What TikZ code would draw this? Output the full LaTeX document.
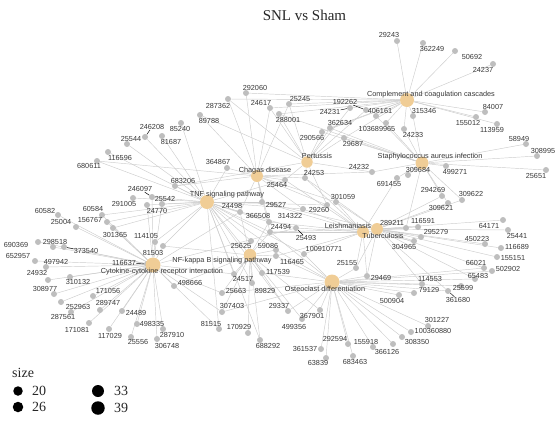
\documentclass[tikz,border=0pt]{standalone}
\usepackage{fontspec}
\setsansfont{Liberation Sans}
\newfontfamily\ttlfont{Liberation Serif}
\usetikzlibrary{backgrounds}
\definecolor{catfill}{RGB}{240,205,150}
\definecolor{genefill}{RGB}{190,190,190}
\definecolor{edgegray}{RGB}{205,205,205}
\definecolor{labelgray}{RGB}{55,55,55}
\begin{document}
\begin{tikzpicture}[x=1pt,y=-1pt,
  catdot/.style={circle,fill=catfill,draw=none,inner sep=0pt,minimum size=#1},
  catdot/.default=12pt,
  genedot/.style={circle,fill=genefill,draw=none,inner sep=0pt,minimum size=6pt},
  lbl/.style={inner sep=0.3pt,text=labelgray,font=\sffamily\fontsize{7.3}{8.8}\selectfont},
  link/.style={draw=edgegray,line width=0.45pt},
  leader/.style={draw=black,line width=0.45pt},
  keydot/.style={circle,fill=black,draw=none,inner sep=0pt,minimum size=#1},
  keytext/.style={inner sep=0pt,text=black!85,font=\ttlfont\fontsize{14}{16}\selectfont}]
\path[use as bounding box] (0,0) rectangle (558,421);
\node[keytext,anchor=base,font=\ttlfont\fontsize{15}{18}\selectfont] (title) at (304.5,20) {SNL vs Sham};
% gene dots
\foreach \n/\x/\y in {29243/397/41,362249/423/43,50692/455/51,24237/493/64,84007/485/112,155012/476/117,
  113959/497/124,315346/413/116,406161/376/116,103689965/386/123,24233/404/129,192262/366/110,
  24231/350/108,362634/330/128,290566/322/132,29687/344/138,25245/289/104,24617/270/108,
  292060/246/93,287362/228/99,89788/200/115,288001/279/114,
  58949/526/144,308995/537/156,25651/546/170,309684/408/175,499271/446/166,691455/397/178,
  24232/372/172,294269/442/196,309622/462/200,309621/448/203,
  289211/406/228,116591/418/227,295279/421/237,64171/503/220,25441/508/230,450223/485/244,
  116689/501/248,155151/497/257,304965/414/241,
  66021/484/268,502902/492/271,65483/475/279,25599/461/286,361680/448/291,114553/422/284,
  79129/414/293,500904/399/295,29469/367/276,25155/356/268,301227/428/326,100360880/411/332,
  308350/402/337,155918/373/347,366126/393/344,683463/353/356,63839/326/358,361537/321/349,
  292594/348/344,
  367901/320/310,499356/302/319,29337/288/311,688292/260/340,170929/248/333,81515/219/329,
  307403/222/312,25663/222/293,89829/252/283,24517/234/274,117539/262/273,100910771/304/254,
  59086/276/250,116465/276/256,25625/251/241,498666/174/286,
  25493/296/228,24494/270/232,314322/303/209,366508/269/222,29527/262/202,29260/327/205,
  301059/336/202,24253/305/178,25464/285/180,24498/240/212,364867/227/168,
  683206/175/186,85240/181/123,246208/145/137,25544/127/144,81687/162/136,116596/108/152,
  680611/97/161,246097/152/197,291005/133/198,25542/162/204,24770/147/205,60584/102/215,
  156767/107/222,301365/113/228,114105/155/242,81503/163/246,116637/147/264,60582/58/215,
  25004/76/227,
  690369/38/242,298518/53/247,373540/64/247,652957/35/261,497942/46/267,24932/48/280,
  310132/70/277,308977/54/294,171056/93/296,252963/61/302,289747/100/310,287561/71/312,
  171081/89/323,117029/109/329,24489/122/311,498335/137/324,287910/163/329,25556/131/337,
  306748/157/339}
  \node[genedot] (g\n) at (\x,\y) {};
% pathway dots
\node[catdot=14pt] (cc) at (407,100) {};
\node[catdot=13pt] (sa) at (422,163) {};
\node[catdot=11.5pt] (pe) at (307,162) {};
\node[catdot=12pt] (cd) at (257,176) {};
\node[catdot=14pt] (tnf) at (207,202) {};
\node[catdot=12pt] (le) at (363,232) {};
\node[catdot=12pt] (tb) at (377,229) {};
\node[catdot=15pt] (ck) at (153,265) {};
\node[catdot=12.5pt] (nf) at (250,255) {};
\node[catdot=15pt] (oc) at (332,282) {};
% links
\begin{scope}[on background layer]
\foreach \g in {29243,362249,50692,24237,84007,155012,113959,315346,406161,103689965,24233,
  192262,24231,362634,290566,29687,25245,24617,292060,287362,288001}
  \draw[link] (g\g) -- (cc);
\foreach \g in {58949,308995,25651,499271,309684,691455,24232,294269,309622,309621,406161,
  103689965,24233,362634,290566,29687,288001,289211,315346}
  \draw[link] (g\g) -- (sa);
\foreach \g in {192262,24231,362634,290566,29687,25245,288001,24232,24253,25464,29260,683206,
  89788,287362,24617}
  \draw[link] (g\g) -- (pe);
\foreach \g in {292060,287362,89788,24617,25245,364867,24498,25464,24253,29527,366508,314322,
  29260,301059,24232,683206,680611,24494}
  \draw[link] (g\g) -- (cd);
\foreach \g in {85240,81687,246208,25544,116596,680611,683206,246097,291005,25542,24770,60584,
  156767,301365,114105,81503,364867,24498,29527,366508,314322,25464,24494,25493,25625,59086,
  89829,24517,29337,499356,688292,81515,100910771,29260}
  \draw[link] (g\g) -- (tnf);
\foreach \g in {691455,289211,304965,29469,25155,24494,25493,314322,366508,29527,29260,301059,
  24253,25464,100910771,116465}
  \draw[link] (g\g) -- (le);
\foreach \g in {289211,116591,295279,64171,25441,450223,116689,155151,304965,66021,65483,
  361680,114553,29469,25155,294269,309622,309621,301059,24253,29527,24494}
  \draw[link] (g\g) -- (tb);
\foreach \g in {60582,25004,690369,298518,373540,652957,497942,24932,310132,308977,171056,
  252963,289747,287561,171081,117029,24489,498335,287910,25556,306748,116637,114105,81503,
  301365,156767,60584,24770,25542,246097,498666,24517,25663,307403,81515,24498,25493}
  \draw[link] (g\g) -- (ck);
\foreach \g in {25625,59086,116465,117539,24517,89829,307403,170929,688292,29337,367901,498666,
  81503,24498,366508,24494,25663}
  \draw[link] (g\g) -- (nf);
\foreach \g in {25155,29469,500904,79129,114553,361680,25599,65483,502902,66021,301227,
  100360880,308350,155918,366126,683463,63839,361537,292594,367901,499356,29337,307403,25663,
  117539,100910771,59086,116465,24494}
  \draw[link] (g\g) -- (oc);
\end{scope}
% gene labels
\foreach \n/\x/\y in {29243/389/35,362249/432/49,50692/472/57,24237/483/70,84007/493/107,
  155012/468/123,113959/492/130,315346/424/111,406161/380/111,103689965/377/129,24233/413/135,
  192262/345/102,24231/330/112,362634/340/123,290566/312/138,29687/353/144,25245/300/99,
  24617/261/103,292060/255/88,287362/218/106,89788/209/121,288001/288/120,
  58949/519/139,308995/543/151,25651/536/176,309684/418/170,499271/455/172,691455/389/184,
  24232/359/167,294269/433/190,309622/471/194,309621/441/208,
  289211/392/223,116591/423/221,295279/436/232,64171/489/226,25441/517/236,450223/477/239,
  116689/517/247,155151/513/258,304965/404/247,
  66021/476/263,502902/508/269,65483/478/276,25599/463/288,361680/458/300,114553/430/279,
  79129/429/290,500904/392/301,29469/381/278,25155/347/263,301227/437/320,100360880/433/331,
  308350/417/342,155918/366/342,366126/387/352,683463/355/362,63839/318/363,361537/305/349,
  292594/335/339,
  367901/312/316,499356/294/327,29337/279/306,688292/268/346,170929/239/327,81515/211/324,
  307403/232/306,25663/236/291,89829/265/291,24517/243/279,117539/278/272,100910771/324/249,
  59086/268/246,116465/292/262,25625/241/246,498666/190/283,
  25493/306/238,24494/281/227,314322/290/216,366508/258/216,29527/276/205,29260/319/210,
  301059/343/197,24253/314/173,25464/277/185,24498/232/206,364867/218/162,
  683206/183/181,85240/180/129,246208/152/127,25544/131/139,81687/171/142,116596/120/158,
  680611/89/166,246097/140/189,291005/124/204,25542/165/199,24770/157/211,60584/93/209,
  156767/90/220,301365/115/235,114105/146/236,81503/153/253,116637/124/263,60582/45/211,
  25004/61/222,
  690369/16/245,298518/55/242,373540/86/251,652957/18/256,497942/56/262,24932/37/273,
  310132/78/282,308977/45/289,171056/108/291,252963/78/307,289747/108/303,287561/63/317,
  171081/77/330,117029/110/336,24489/136/313,498335/152/324,287910/172/335,25556/138/342,
  306748/167/346}
  \node[lbl] (l\n) at (\x,\y) {\n};
\foreach \n in {192262,24231,246208,246097,116637,373540,361680,25493}
  \draw[leader] (l\n) -- (g\n);
% pathway labels
\node[lbl] (lcc) at (431,95) {Complement and coagulation cascades};
\node[lbl] (lsa) at (430,157) {Staphylococcus aureus infection};
\node[lbl] (lpe) at (317,156) {Pertussis};
\node[lbl] (lcd) at (265,171) {Chagas disease};
\node[lbl] (ltnf) at (227,195) {TNF signaling pathway};
\node[lbl] (lle) at (348,226) {Leishmaniasis};
\node[lbl] (ltb) at (383,236) {Tuberculosis};
\node[lbl] (lck) at (162,272) {Cytokine-cytokine receptor interaction};
\node[lbl] (lnf) at (222,261) {NF-kappa B signaling pathway};
\node[lbl] (loc) at (325,289) {Osteoclast differentiation};
% size key
\node[keytext,anchor=base west] (keyttl) at (12,377) {size};
\node[keydot=9.5pt] (k20) at (18,391) {};
\node[keytext,anchor=west] (t20) at (32,391) {20};
\node[keydot=10.5pt] (k26) at (18,407) {};
\node[keytext,anchor=west] (t26) at (32,407) {26};
\node[keydot=12pt] (k33) at (98,391) {};
\node[keytext,anchor=west] (t33) at (114,391) {33};
\node[keydot=13.5pt] (k39) at (98,408) {};
\node[keytext,anchor=west] (t39) at (114,408) {39};
\end{tikzpicture}
\end{document}
